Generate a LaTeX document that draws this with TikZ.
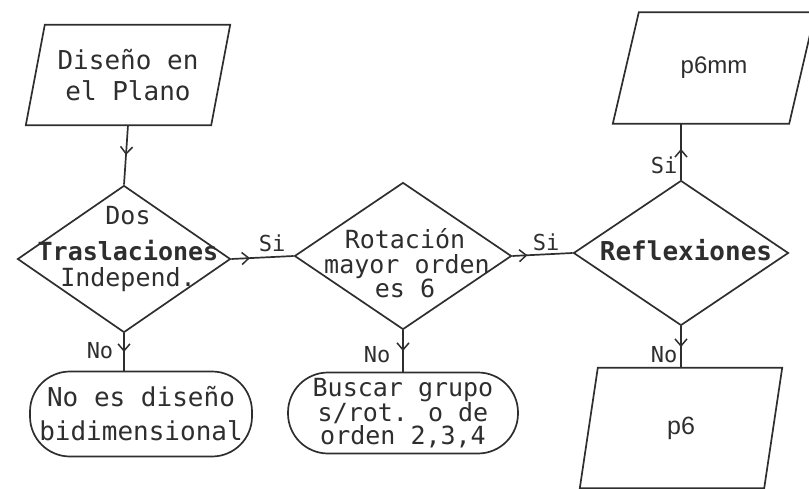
\documentclass[tikz,border=0pt]{standalone}
\usepackage{fontspec}
\newfontfamily\monof{DejaVu Sans Mono}
\newfontfamily\sansf{Liberation Sans}
\usetikzlibrary{shapes.geometric,decorations.markings,arrows.meta}
\definecolor{ink}{HTML}{2E2E2E}
\tikzset{
  ln/.style={line width=1.7pt, draw=ink},
  midarrow/.style={postaction={decorate}, decoration={markings,
      mark=at position #1 with {\arrow[ink,line width=1.5pt]{Straight Barb[length=7pt,width=12pt]}}}},
  pbox/.style={draw=none, minimum height=100pt, inner sep=0pt, align=center},
  dbox/.style={ln, diamond, inner sep=0pt},
  term/.style={ln, rounded corners=40pt, inner sep=0pt, align=center},
  mono/.style={font=\monof\fontsize{26}{31}\selectfont, text=ink},
  dtxt/.style={font=\monof\fontsize{25}{26}\selectfont, text=ink, inner sep=0pt, anchor=base},
  lbl/.style={font=\monof\fontsize{22}{24}\selectfont, text=ink, inner sep=0pt},
}
\begin{document}
\begin{tikzpicture}[x=1pt,y=-1pt]
\useasboundingbox (0,0) rectangle (809,489);

% input parallelogram
\node[pbox, mono, minimum width=185pt, minimum height=100pt] (plano) at (128,75) {Diseño en\\el Plano};
\draw[ln] ([xshift=-9.5pt]plano.south west) -- ([xshift=-9.5pt]plano.south east)
  -- ([xshift=9.5pt]plano.north east) -- ([xshift=9.5pt]plano.north west) -- cycle;

% decisions
\node[dbox, minimum width=213pt, minimum height=147pt] (d1) at (124,259) {};
\node[dtxt] (d1a) at (128,225) {Dos};
\node[dtxt] (d1b) at (128,261) {\textbf{Traslaciones}};
\node[dtxt] (d1c) at (128,287) {Independ.};

\node[dbox, minimum width=217pt, minimum height=147pt] (d2) at (403,256) {};
\node[dtxt] (d2a) at (405,249) {Rotación};
\node[dtxt] (d2b) at (407,273) {mayor orden};
\node[dtxt] (d2c) at (405,298) {es 6};

\node[dbox, minimum width=215pt, minimum height=145pt] (d3) at (681,253) {};
\node[mono] (d3t) at (686,250) {\textbf{Reflexiones}};

% outputs
\node[pbox, minimum width=176pt, minimum height=111pt, font=\sansf\fontsize{24}{26}\selectfont, text=ink] (p6mm) at (714,68) {p6mm};
\draw[ln] ([xshift=-13pt]p6mm.south west) -- ([xshift=-13pt]p6mm.south east)
  -- ([xshift=13pt]p6mm.north east) -- ([xshift=13pt]p6mm.north west) -- cycle;

\node[pbox, minimum width=184pt, minimum height=120pt, font=\sansf\fontsize{25}{26}\selectfont, text=ink] (p6) at (681,428) {p6};
\draw[ln] ([xshift=-9pt]p6.south west) -- ([xshift=-9pt]p6.south east)
  -- ([xshift=9pt]p6.north east) -- ([xshift=9pt]p6.north west) -- cycle;

% terminals
\node[term, mono, minimum width=222pt, minimum height=85pt, font=\monof\fontsize{26}{34}\selectfont] (t1) at (141,414)
  {No es diseño\\bidimensional};
\node[term, mono, minimum width=230pt, minimum height=81pt, font=\monof\fontsize{25}{23}\selectfont] (t2) at (403,413)
  {Buscar grupo\\s/rot. o de\\orden 2,3,4};

% connectors
\draw[ln, midarrow=0.5] (plano.south) -- (d1.north);
\draw[ln, midarrow=0.3] (d1.east) -- (d2.west);
\draw[ln, midarrow=0.25] (d2.east) -- (d3.west);
\draw[ln, midarrow=0.55] (d3.north) -- (d3.north |- p6mm.south);
\draw[ln, midarrow=0.5] (d3.south) -- (d3.south |- p6.north);
\draw[ln, midarrow=0.5] (d1.south) -- (d1.south |- t1.north);
\draw[ln, midarrow=0.5] (d2.south) -- (d2.south |- t2.north);

% labels
\node[lbl] (s1) at (272,243) {Si};
\node[lbl] (s2) at (546,242) {Si};
\node[lbl] (s3) at (664,165) {Si};
\node[lbl] (n1) at (100,351) {No};
\node[lbl] (n2) at (377,355) {No};
\node[lbl] (n3) at (664,355) {No};
\end{tikzpicture}
\end{document}
